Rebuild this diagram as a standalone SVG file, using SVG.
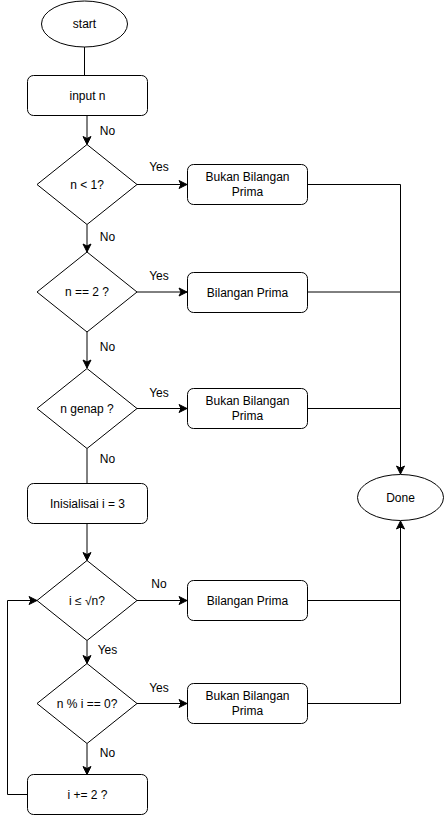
<svg xmlns="http://www.w3.org/2000/svg" width="444" height="815" viewBox="0 0 444 815">
<style>
.s{fill:#fff;stroke:#000;stroke-width:1}
.c{fill:none;stroke:#000;stroke-width:1}
text{font-family:"Liberation Sans",Arial,sans-serif;font-size:12px;fill:#000;text-anchor:middle}
</style>
<defs>
<marker id="a" markerUnits="userSpaceOnUse" markerWidth="10" markerHeight="10" viewBox="0 0 10 10" refX="9" refY="5" orient="auto">
<path d="M1,1 L9,5 L1,9 L3,5 Z" fill="#000" stroke="#000" stroke-width="1"/>
</marker>
</defs>
<rect width="444" height="815" fill="#fff"/>
<g id="connectors">
<path class="c" d="M84.5,47 V75"/>
<path class="c" d="M87,115 V144.5" marker-end="url(#a)"/>
<path class="c" d="M137,184.5 H187" marker-end="url(#a)"/>
<path class="c" d="M87,224.5 V252" marker-end="url(#a)"/>
<path class="c" d="M137,292 H187" marker-end="url(#a)"/>
<path class="c" d="M87,332 V368" marker-end="url(#a)"/>
<path class="c" d="M137,408.5 H187" marker-end="url(#a)"/>
<path class="c" d="M87,448.5 V483.5"/>
<path class="c" d="M87,523.5 V560.5" marker-end="url(#a)"/>
<path class="c" d="M137,600.5 H187" marker-end="url(#a)"/>
<path class="c" d="M87,640.5 V663.5" marker-end="url(#a)"/>
<path class="c" d="M137,703.5 H187" marker-end="url(#a)"/>
<path class="c" d="M87,743.5 V774.5" marker-end="url(#a)"/>
<path class="c" d="M27,794.5 H7.5 V600.5 H37" marker-end="url(#a)"/>
<path class="c" d="M307,184.5 H400.5 V474" marker-end="url(#a)"/>
<path class="c" d="M307,292 H400.5"/>
<path class="c" d="M307,408.5 H400.5"/>
<path class="c" d="M307,600.5 H400.5"/>
<path class="c" d="M307,703.5 H400.5 V521" marker-end="url(#a)"/>
<text x="107.5" y="134.5">No</text>
<text x="159" y="171">Yes</text>
<text x="107.5" y="241">No</text>
<text x="159" y="280">Yes</text>
<text x="107.5" y="351">No</text>
<text x="159" y="397">Yes</text>
<text x="107.5" y="463">No</text>
<text x="159" y="587.5">No</text>
<text x="107.5" y="653.5">Yes</text>
<text x="159" y="691.5">Yes</text>
<text x="107.5" y="757">No</text>
</g>
<g id="start"><ellipse class="s" cx="84.5" cy="24" rx="43" ry="23"/><text x="84.5" y="28">start</text></g>
<g id="input"><rect class="s" x="27.5" y="75.5" width="120" height="40" rx="6"/><text x="87.5" y="99.5">input n</text></g>
<g id="d1"><path class="s" d="M87,144.5 L137,184.5 L87,224.5 L37,184.5 Z"/><text x="87" y="188.5">n &lt; 1?</text></g>
<g id="b1"><rect class="s" x="187.5" y="164.5" width="120" height="40" rx="6"/><text x="247.5" y="181">Bukan Bilangan</text><text x="247.5" y="196">Prima</text></g>
<g id="d2"><path class="s" d="M87,252 L137,292 L87,332 L37,292 Z"/><text x="87" y="296">n == 2 ?</text></g>
<g id="b2"><rect class="s" x="187.5" y="272.5" width="120" height="40" rx="6"/><text x="247.5" y="296.5">Bilangan Prima</text></g>
<g id="d3"><path class="s" d="M87,368.5 L137,408.5 L87,448.5 L37,408.5 Z"/><text x="87" y="412.5">n genap ?</text></g>
<g id="b3"><rect class="s" x="187.5" y="388.5" width="120" height="40" rx="6"/><text x="247.5" y="405">Bukan Bilangan</text><text x="247.5" y="420">Prima</text></g>
<g id="init"><rect class="s" x="27.5" y="483.5" width="120" height="40" rx="6"/><text x="87.5" y="507.5">Inisialisai i = 3</text></g>
<g id="done"><ellipse class="s" cx="400.5" cy="497.5" rx="43" ry="23"/><text x="400.5" y="501.5">Done</text></g>
<g id="d4"><path class="s" d="M87,560.5 L137,600.5 L87,640.5 L37,600.5 Z"/><text x="87" y="604.5">i ≤ √n?</text></g>
<g id="b4"><rect class="s" x="187.5" y="580.5" width="120" height="40" rx="6"/><text x="247.5" y="604.5">Bilangan Prima</text></g>
<g id="d5"><path class="s" d="M87,663.5 L137,703.5 L87,743.5 L37,703.5 Z"/><text x="87" y="707.5">n % i == 0?</text></g>
<g id="b5"><rect class="s" x="187.5" y="683.5" width="120" height="40" rx="6"/><text x="247.5" y="700">Bukan Bilangan</text><text x="247.5" y="715">Prima</text></g>
<g id="inc"><rect class="s" x="27.5" y="774.5" width="120" height="40" rx="6"/><text x="87.5" y="798.5">i += 2 ?</text></g>
</svg>
